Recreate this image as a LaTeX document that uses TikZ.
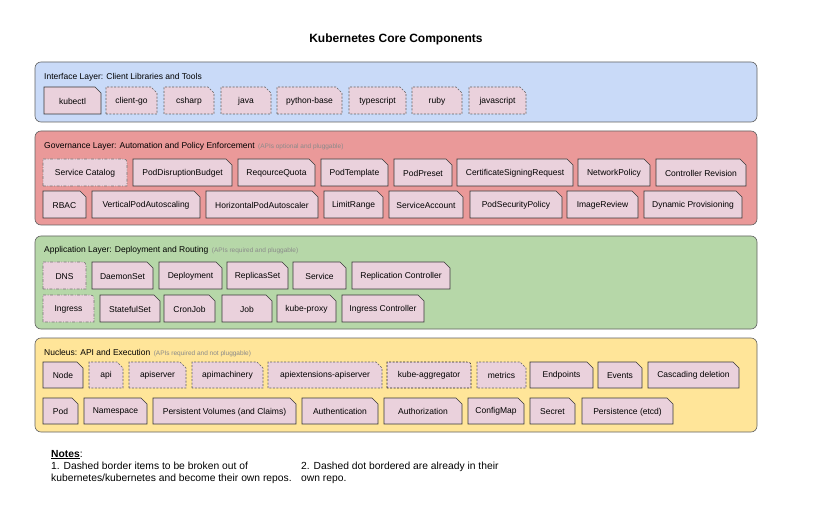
\documentclass[tikz,border=0pt]{standalone}
\usepackage{fontspec}
\setmainfont{Liberation Sans}
\definecolor{lblue}{HTML}{C9DAF8}
\definecolor{lred}{HTML}{EA9999}
\definecolor{lgreen}{HTML}{B6D7A8}
\definecolor{lyellow}{HTML}{FFE599}
\definecolor{boxpink}{HTML}{EAD1DC}
\definecolor{subgray}{HTML}{8A8A8A}
% snipped-corner box: name, x1, y1, x2, y2, style, text
\newcommand\kb[7]{%
  \path[#6] (#2,#5) -- (#2,#3) -- ({#4-6},#3) -- (#4,{#3+6}) -- (#4,#5) -- cycle;
  \node[lbl, minimum width={(#4-#2)*1pt}, minimum height={(#5-#3)*1pt}] (#1) at ({(#2+#4)/2},{(#3+#5)/2+0.8}) {#7};}
% rounded-corner box
\newcommand\kr[7]{%
  \path[#6] (#2,#5) -- (#2,#3) -- ({#4-7},#3) .. controls (#4,#3) .. (#4,{#3+7}) -- (#4,#5) -- cycle;
  \node[lbl, minimum width={(#4-#2)*1pt}, minimum height={(#5-#3)*1pt}] (#1) at ({(#2+#4)/2},{(#3+#5)/2+0.8}) {#7};}
\begin{document}
\begin{tikzpicture}[x=1pt,y=-1pt,
  layer/.style={draw=black!62, line width=0.6pt, rounded corners=6pt},
  bx/.style={fill=boxpink, draw=black!78, line width=0.6pt},
  dsh/.style={fill=boxpink, draw=black!62, line width=0.6pt, dash pattern=on 2pt off 1.5pt},
  dshk/.style={fill=boxpink, draw=black!85, line width=0.6pt, dash pattern=on 2pt off 1.5pt},
  dd/.style={fill=boxpink, draw=black!55, line width=0.6pt, dash pattern=on 3pt off 1.5pt on 0.8pt off 1.5pt},
  lbl/.style={font=\fontsize{8.5}{10}\selectfont, inner sep=0pt},
  ttl/.style={font=\fontsize{8.5}{10}\selectfont, anchor=base west, inner sep=0pt},
  sub/.style={font=\fontsize{6.5}{8}\selectfont, text=subgray, anchor=base west, inner sep=0pt},
  note/.style={font=\fontsize{10.3}{12}\selectfont, anchor=base west, inner sep=0pt}]
\useasboundingbox (0,0) rectangle (823,516);

\node[font=\bfseries\fontsize{12}{14}\selectfont, inner sep=0pt] (title) at (396,39) {Kubernetes Core Components};

% ---------- layers ----------
\draw[layer, fill=lblue]   (35,62)  rectangle (757,122);
\draw[layer, fill=lred]    (35,131) rectangle (757,225);
\draw[layer, fill=lgreen]  (35,236) rectangle (757,329);
\draw[layer, fill=lyellow] (35,338) rectangle (757,432);

% ---------- interface ----------
\node[ttl] (t1) at (44,80) {Interface Layer: Client Libraries and Tools};
\kb{kubectl}{44}{87}{101}{114}{bx}{kubectl}
\kb{clientgo}{106}{87}{157}{114}{dsh}{client-go}
\kb{csharp}{164}{87}{214}{114}{dsh}{csharp}
\kb{java}{221}{87}{271}{114}{dsh}{java}
\kb{pybase}{277}{87}{342}{114}{dsh}{python-base}
\kb{typescript}{349}{87}{406}{114}{dsh}{typescript}
\kb{ruby}{412}{87}{462}{114}{dsh}{ruby}
\kb{javascript}{469}{87}{526}{114}{dsh}{javascript}

% ---------- governance ----------
\node[ttl] (t2) at (44,149) {Governance Layer: Automation and Policy Enforcement};
\node[sub] (s2) at ([xshift=3pt]t2.base east) {(APIs optional and pluggable)};
\kr{svccat}{43}{159}{127}{186}{dd}{Service Catalog}
\kb{pdb}{133}{159}{232}{186}{bx}{PodDisruptionBudget}
\kb{rquota}{238}{159}{315}{186}{bx}{ReqourceQuota}
\kb{podtpl}{321}{159}{388}{186}{bx}{PodTemplate}
\kb{podpreset}{394}{159}{452}{186}{bx}{PodPreset}
\kb{csr}{457}{159}{573}{186}{bx}{CertificateSigningRequest}
\kb{netpol}{578}{159}{650}{186}{bx}{NetworkPolicy}
\kb{ctlrev}{656}{159}{746}{186}{bx}{Controller Revision}
\kb{rbac}{43}{191}{86}{218}{bx}{RBAC}
\kb{vpa}{92}{191}{200}{218}{bx}{VerticalPodAutoscaling}
\kb{hpa}{206}{191}{318}{218}{bx}{HorizontalPodAutoscaler}
\kb{limitrange}{324}{191}{383}{218}{bx}{LimitRange}
\kb{svcacct}{389}{191}{463}{218}{bx}{ServiceAccount}
\kb{psp}{470}{191}{562}{218}{bx}{PodSecurityPolicy}
\kb{imgrev}{567}{191}{638}{218}{bx}{ImageReview}
\kb{dynprov}{644}{191}{742}{218}{bx}{Dynamic Provisioning}

% ---------- application ----------
\node[ttl] (t3) at (44,252) {Application Layer: Deployment and Routing};
\node[sub] (s3) at ([xshift=3pt]t3.base east) {(APIs required and pluggable)};
\kr{dns}{43}{262}{86}{289}{dd}{DNS}
\kb{daemonset}{92}{262}{153}{289}{bx}{DaemonSet}
\kb{deployment}{159}{262}{222}{289}{bx}{Deployment}
\kb{replicaset}{227}{262}{288}{289}{bx}{ReplicasSet}
\kb{service}{293}{262}{346}{289}{bx}{Service}
\kb{repctl}{352}{262}{450}{289}{bx}{Replication Controller}
\kr{ingress}{43}{295}{94}{322}{dd}{Ingress}
\kb{statefulset}{100}{295}{160}{322}{bx}{StatefulSet}
\kb{cronjob}{164}{295}{215}{322}{bx}{CronJob}
\kb{job}{222}{295}{272}{322}{bx}{Job}
\kb{kubeproxy}{277}{295}{336}{322}{bx}{kube-proxy}
\kb{ingctl}{342}{295}{424}{322}{bx}{Ingress Controller}

% ---------- nucleus ----------
\node[ttl] (t4) at (44,355) {Nucleus: API and Execution};
\node[sub] (s4) at ([xshift=3pt]t4.base east) {(APIs required and not pluggable)};
\kb{node}{43}{362}{83}{388}{bx}{Node}
\kb{api}{89}{362}{123}{388}{dsh}{api}
\kb{apiserver}{129}{362}{186}{388}{dsh}{apiserver}
\kb{apimach}{192}{362}{263}{388}{dsh}{apimachinery}
\kb{apiext}{268}{362}{382}{388}{dsh}{apiextensions-apiserver}
\kr{kubeagg}{387}{362}{471}{388}{dshk}{kube-aggregator}
\kb{metrics}{477}{362}{526}{388}{dsh}{metrics}
\kb{endpoints}{530}{362}{593}{388}{bx}{Endpoints}
\kb{events}{598}{362}{642}{388}{bx}{Events}
\kb{cascade}{648}{362}{739}{388}{bx}{Cascading deletion}
\kb{pod}{43}{398}{78}{424}{bx}{Pod}
\kb{namespace}{84}{398}{147}{424}{bx}{Namespace}
\kb{pv}{153}{398}{296}{424}{bx}{Persistent Volumes (and Claims)}
\kb{authn}{302}{398}{378}{424}{bx}{Authentication}
\kb{authz}{384}{398}{462}{424}{bx}{Authorization}
\kb{configmap}{468}{398}{524}{424}{bx}{ConfigMap}
\kb{secret}{530}{398}{575}{424}{bx}{Secret}
\kb{persist}{582}{398}{673}{424}{bx}{Persistence (etcd)}

% ---------- notes ----------
\node[note] (notes) at (51,457) {\textbf{\underline{Notes}}:};
\node[note] (n1a) at (51,469) {1. Dashed border items to be broken out of};
\node[note] (n1b) at (51,481) {kubernetes/kubernetes and become their own repos.};
\node[note] (n2a) at (301,469) {2. Dashed dot bordered are already in their};
\node[note] (n2b) at (301,481) {own repo.};
\end{tikzpicture}
\end{document}
